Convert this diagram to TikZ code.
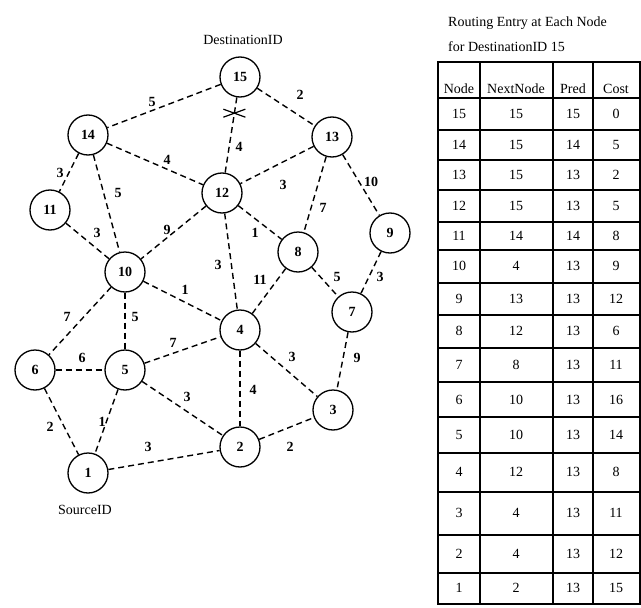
\documentclass[tikz,border=0pt]{standalone}
\usepackage{fontspec}
\setmainfont{Liberation Serif}
\usetikzlibrary{calc}

\tikzset{
  router/.style={circle,draw=black,line width=1.3pt,minimum size=40pt,inner sep=0pt,font=\fontsize{14}{16}\selectfont\bfseries},
  link/.style={dash pattern=on 6pt off 4pt,line width=1.4pt},
  cost/.style={inner sep=0pt,font=\fontsize{14}{16}\selectfont\bfseries},
  cell/.style={inner sep=0pt,font=\fontsize{14}{16}\selectfont},
  rule/.style={line width=1.2pt}
}

\begin{document}
\begin{tikzpicture}[x=1pt,y=-1pt]
        \useasboundingbox (0,0) rectangle (641,608);

        % routers
        \node[router] (n15) at (240,77) {15};
        \node[router] (n14) at (88,135) {14};
        \node[router] (n13) at (332,137) {13};
        \node[router] (n12) at (222,193) {12};
        \node[router] (n11) at (50,210) {11};
        \node[router] (n9) at (390,233) {9};
        \node[router] (n8) at (298,252) {8};
        \node[router] (n10) at (125,272) {10};
        \node[router] (n7) at (352,312) {7};
        \node[router] (n4) at (240,330) {4};
        \node[router] (n6) at (35,370) {6};
        \node[router] (n5) at (125,370) {5};
        \node[router] (n3) at (333,410) {3};
        \node[router] (n2) at (240,447) {2};
        \node[router] (n1) at (88,473) {1};

        \node[cell] (dest) at (243,40) {DestinationID};
        \node[cell] (src) at (85,510) {SourceID};

        % links
        \draw[link] (n15) -- (n14);
        \draw[link] (n15) -- (n13);
        \draw[link] (n15) -- coordinate[pos=0.21] (cut) (n12);
        \draw[rule] ($(cut)+(-11,-4)$) -- ($(cut)+(11,4)$) ($(cut)+(-11,4)$) -- ($(cut)+(11,-4)$);
        \draw[link] (n14) -- (n12);
        \draw[link] (n14) -- (n11);
        \draw[link] (n14) -- (n10);
        \draw[link] (n13) -- (n12);
        \draw[link] (n13) -- (n8);
        \draw[link] (n13) -- (n9);
        \draw[link] (n11) -- (n10);
        \draw[link] (n12) -- (n10);
        \draw[link] (n12) -- (n8);
        \draw[link] (n12) -- (n4);
        \draw[link] (n8) -- (n4);
        \draw[link] (n8) -- (n7);
        \draw[link] (n9) -- (n7);
        \draw[link] (n10) -- (n4);
        \draw[link] (n10) -- (n6);
        \draw[link] (n10) -- (n5);
        \draw[link] (n5) -- (n4);
        \draw[link] (n6) -- (n5);
        \draw[link] (n4) -- (n3);
        \draw[link] (n7) -- (n3);
        \draw[link] (n4) -- (n2);
        \draw[link] (n5) -- (n2);
        \draw[link] (n6) -- (n1);
        \draw[link] (n5) -- (n1);
        \draw[link] (n1) -- (n2);
        \draw[link] (n2) -- (n3);

        % link costs
        \node[cost] (c15-14) at (152,102) {5};
        \node[cost] (c15-13) at (300,95) {2};
        \node[cost] (c15-12) at (239,147) {4};
        \node[cost] (c14-12) at (167,160) {4};
        \node[cost] (c13-12) at (283,185) {3};
        \node[cost] (c13-8) at (323,208) {7};
        \node[cost] (c13-9) at (371,182) {10};
        \node[cost] (c14-11) at (60,173) {3};
        \node[cost] (c14-10) at (118,193) {5};
        \node[cost] (c11-10) at (97,233) {3};
        \node[cost] (c12-10) at (167,230) {9};
        \node[cost] (c12-8) at (255,233) {1};
        \node[cost] (c12-4) at (218,265) {3};
        \node[cost] (c8-4) at (260,280) {11};
        \node[cost] (c8-7) at (337,277) {5};
        \node[cost] (c9-7) at (380,277) {3};
        \node[cost] (c10-4) at (185,290) {1};
        \node[cost] (c10-6) at (67,317) {7};
        \node[cost] (c10-5) at (135,317) {5};
        \node[cost] (c5-4) at (173,343) {7};
        \node[cost] (c6-5) at (82,358) {6};
        \node[cost] (c4-3) at (292,357) {3};
        \node[cost] (c7-3) at (357,358) {9};
        \node[cost] (c4-2) at (253,390) {4};
        \node[cost] (c5-2) at (187,397) {3};
        \node[cost] (c6-1) at (50,427) {2};
        \node[cost] (c5-1) at (102,422) {1};
        \node[cost] (c1-2) at (148,447) {3};
        \node[cost] (c2-3) at (290,447) {2};

        % routing table
        \node[cell,anchor=west] (title1) at (448,23) {Routing Entry at Each Node};
        \node[cell,anchor=west] (title2) at (448,47) {for DestinationID 15};

        \draw[rule] (438,62) rectangle (640,604);
        \draw[rule] (480,62) -- (480,604);
        \draw[rule] (553,62) -- (553,604);
        \draw[rule] (593,62) -- (593,604);
        \draw[rule] (438,98) -- (640,98);
        \draw[rule] (438,130) -- (640,130);
        \draw[rule] (438,160) -- (640,160);
        \draw[rule] (438,190) -- (640,190);
        \draw[rule] (438,222) -- (640,222);
        \draw[rule] (438,250) -- (640,250);
        \draw[rule] (438,283) -- (640,283);
        \draw[rule] (438,315) -- (640,315);
        \draw[rule] (438,348) -- (640,348);
        \draw[rule] (438,382) -- (640,382);
        \draw[rule] (438,417) -- (640,417);
        \draw[rule] (438,453) -- (640,453);
        \draw[rule] (438,492) -- (640,492);
        \draw[rule] (438,535) -- (640,535);
        \draw[rule] (438,573) -- (640,573);

        \node[cell] (h-node) at (459,89) {Node};
        \node[cell] (h-next) at (516,89) {NextNode};
        \node[cell] (h-pred) at (573,89) {Pred};
        \node[cell] (h-cost) at (616,89) {Cost};

        \node[cell] (r15-node) at (459,114) {15}; \node[cell] (r15-next) at (516,114) {15}; \node[cell] (r15-pred) at (573,114) {15}; \node[cell] (r15-cost) at (616,114) {0};
        \node[cell] (r14-node) at (459,145) {14}; \node[cell] (r14-next) at (516,145) {15}; \node[cell] (r14-pred) at (573,145) {14}; \node[cell] (r14-cost) at (616,145) {5};
        \node[cell] (r13-node) at (459,175) {13}; \node[cell] (r13-next) at (516,175) {15}; \node[cell] (r13-pred) at (573,175) {13}; \node[cell] (r13-cost) at (616,175) {2};
        \node[cell] (r12-node) at (459,206) {12}; \node[cell] (r12-next) at (516,206) {15}; \node[cell] (r12-pred) at (573,206) {13}; \node[cell] (r12-cost) at (616,206) {5};
        \node[cell] (r11-node) at (459,236) {11}; \node[cell] (r11-next) at (516,236) {14}; \node[cell] (r11-pred) at (573,236) {14}; \node[cell] (r11-cost) at (616,236) {8};
        \node[cell] (r10-node) at (459,266) {10}; \node[cell] (r10-next) at (516,266) {4}; \node[cell] (r10-pred) at (573,266) {13}; \node[cell] (r10-cost) at (616,266) {9};
        \node[cell] (r9-node) at (459,299) {9}; \node[cell] (r9-next) at (516,299) {13}; \node[cell] (r9-pred) at (573,299) {13}; \node[cell] (r9-cost) at (616,299) {12};
        \node[cell] (r8-node) at (459,331) {8}; \node[cell] (r8-next) at (516,331) {12}; \node[cell] (r8-pred) at (573,331) {13}; \node[cell] (r8-cost) at (616,331) {6};
        \node[cell] (r7-node) at (459,365) {7}; \node[cell] (r7-next) at (516,365) {8}; \node[cell] (r7-pred) at (573,365) {13}; \node[cell] (r7-cost) at (616,365) {11};
        \node[cell] (r6-node) at (459,400) {6}; \node[cell] (r6-next) at (516,400) {10}; \node[cell] (r6-pred) at (573,400) {13}; \node[cell] (r6-cost) at (616,400) {16};
        \node[cell] (r5-node) at (459,435) {5}; \node[cell] (r5-next) at (516,435) {10}; \node[cell] (r5-pred) at (573,435) {13}; \node[cell] (r5-cost) at (616,435) {14};
        \node[cell] (r4-node) at (459,472) {4}; \node[cell] (r4-next) at (516,472) {12}; \node[cell] (r4-pred) at (573,472) {13}; \node[cell] (r4-cost) at (616,472) {8};
        \node[cell] (r3-node) at (459,513) {3}; \node[cell] (r3-next) at (516,513) {4}; \node[cell] (r3-pred) at (573,513) {13}; \node[cell] (r3-cost) at (616,513) {11};
        \node[cell] (r2-node) at (459,554) {2}; \node[cell] (r2-next) at (516,554) {4}; \node[cell] (r2-pred) at (573,554) {13}; \node[cell] (r2-cost) at (616,554) {12};
        \node[cell] (r1-node) at (459,588) {1}; \node[cell] (r1-next) at (516,588) {2}; \node[cell] (r1-pred) at (573,588) {13}; \node[cell] (r1-cost) at (616,588) {15};
\end{tikzpicture}
\end{document}
